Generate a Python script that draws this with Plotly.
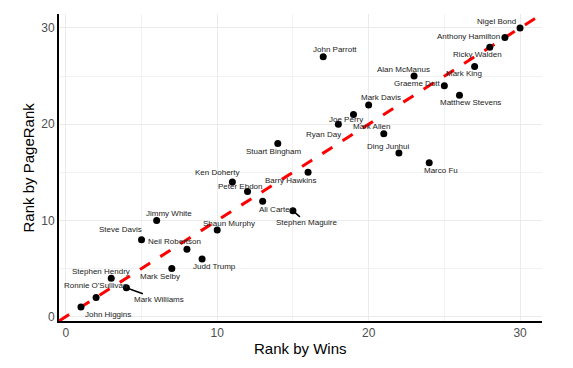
import plotly.graph_objects as go

players = ["John Higgins", "Ronnie O'Sullivan", "Stephen Hendry", "Mark Williams",
           "Steve Davis", "Jimmy White", "Mark Selby", "Neil Robertson", "Judd Trump",
           "Shaun Murphy", "Ken Doherty", "Peter Ebdon", "Ali Carter", "Stuart Bingham",
           "Stephen Maguire", "Barry Hawkins", "John Parrott", "Ryan Day", "Joe Perry",
           "Mark Davis", "Mark Allen", "Ding Junhui", "Alan McManus", "Marco Fu",
           "Graeme Dott", "Matthew Stevens", "Mark King", "Ricky Walden",
           "Anthony Hamilton", "Nigel Bond"]
rank_wins = [1, 2, 3, 4, 5, 6, 7, 8, 9, 10, 11, 12, 13, 14, 15, 16, 17, 18, 19, 20,
             21, 22, 23, 24, 25, 26, 27, 28, 29, 30]
rank_pagerank = [1, 2, 4, 3, 8, 10, 5, 7, 6, 9, 14, 13, 12, 18, 11, 15, 27, 20, 21, 22,
                 19, 17, 25, 16, 24, 23, 26, 28, 29, 30]
tick_vals = [0, 10, 20, 30]
x_title = "Rank by Wins"
y_title = "Rank by PageRank"

# label pixel offsets (dx right, dy down) and whether a connector segment is drawn
label_offsets = {
    "John Higgins": (27, 7, False), "Ronnie O'Sullivan": (-1, -12, False),
    "Stephen Hendry": (-10, -7, False), "Mark Williams": (33, 12, True),
    "Steve Davis": (-21, -10, False), "Jimmy White": (12, -7, False),
    "Mark Selby": (-12, 8, False), "Neil Robertson": (-12, -8, False),
    "Judd Trump": (12, 8, False), "Shaun Murphy": (12, -7, False),
    "Ken Doherty": (-15, -9, False), "Peter Ebdon": (-8, -5, False),
    "Ali Carter": (13, 8, False), "Stuart Bingham": (-4, 8, False),
    "Stephen Maguire": (14, 12, True), "Barry Hawkins": (-17, 8, False),
    "John Parrott": (12, -7, False), "Ryan Day": (-15, 10, False),
    "Joe Perry": (-7, 5, False), "Mark Davis": (12, -7, False),
    "Mark Allen": (-12, -7, False), "Ding Junhui": (-11, -7, False),
    "Alan McManus": (-11, -7, False), "Marco Fu": (12, 8, False),
    "Graeme Dott": (-27, -2, False), "Matthew Stevens": (11, 7, False),
    "Mark King": (-11, 7, False), "Ricky Walden": (-12, 7, False),
    "Anthony Hamilton": (-36, -1, False), "Nigel Bond": (-24, -6, False),
}

def expanded(vals, frac=0.05):
    lo, hi = min(vals), max(vals)
    pad = (hi - lo) * frac
    return [lo - pad, hi + pad]

xr = expanded(rank_wins)
yr = expanded(rank_pagerank)

fig = go.Figure()

# reference line y = x
fig.add_trace(go.Scatter(x=xr, y=xr, mode="lines",
                         line=dict(color="#ff0000", width=3, dash="12px,12px"),
                         hoverinfo="skip", showlegend=False))

fig.add_trace(go.Scatter(x=rank_wins, y=rank_pagerank, mode="markers",
                         marker=dict(color="black", size=7),
                         text=players, showlegend=False))

label_font = dict(size=8, color="#222222", family="Liberation Sans, Arial, sans-serif")
annotations = []
for name, xv, yv in zip(players, rank_wins, rank_pagerank):
    dx, dy, seg = label_offsets[name]
    if seg:
        annotations.append(dict(x=xv, y=yv, text=name, showarrow=True, ax=dx, ay=dy,
                                arrowhead=0, arrowwidth=1.5, arrowcolor="black",
                                standoff=2, font=label_font))
    else:
        annotations.append(dict(x=xv, y=yv, text=name, showarrow=False,
                                xshift=dx, yshift=-dy, font=label_font))

annotations.append(dict(text=x_title, xref="paper", yref="paper", x=0.5, y=0,
                        yshift=-27, showarrow=False, yanchor="middle",
                        font=dict(size=15, color="black")))
annotations.append(dict(text=y_title, xref="paper", yref="paper", x=0, y=0.5,
                        xshift=-31, showarrow=False, xanchor="center", textangle=-90,
                        font=dict(size=15, color="black")))

axis_common = dict(tickvals=tick_vals, showgrid=True, gridcolor="#ebebeb",
                   gridwidth=1.2, zeroline=False, showline=True, linecolor="black",
                   linewidth=2, ticks="", tickfont=dict(size=12, color="#4d4d4d"),
                   automargin=False,
                   minor=dict(tickvals=[5, 15, 25], showgrid=True, gridcolor="#f2f2f2",
                              gridwidth=1))

# page body has an 8px default margin, so the figure is sized/offset to compensate
fig.update_layout(
    width=565, height=360,
    margin=dict(l=51, r=31, t=6, b=47),
    paper_bgcolor="white", plot_bgcolor="white",
    font=dict(family="Liberation Sans, Arial, sans-serif"),
    annotations=annotations,
    xaxis=dict(range=xr, **axis_common),
    yaxis=dict(range=yr, **axis_common),
)

fig.write_html("out.html")
